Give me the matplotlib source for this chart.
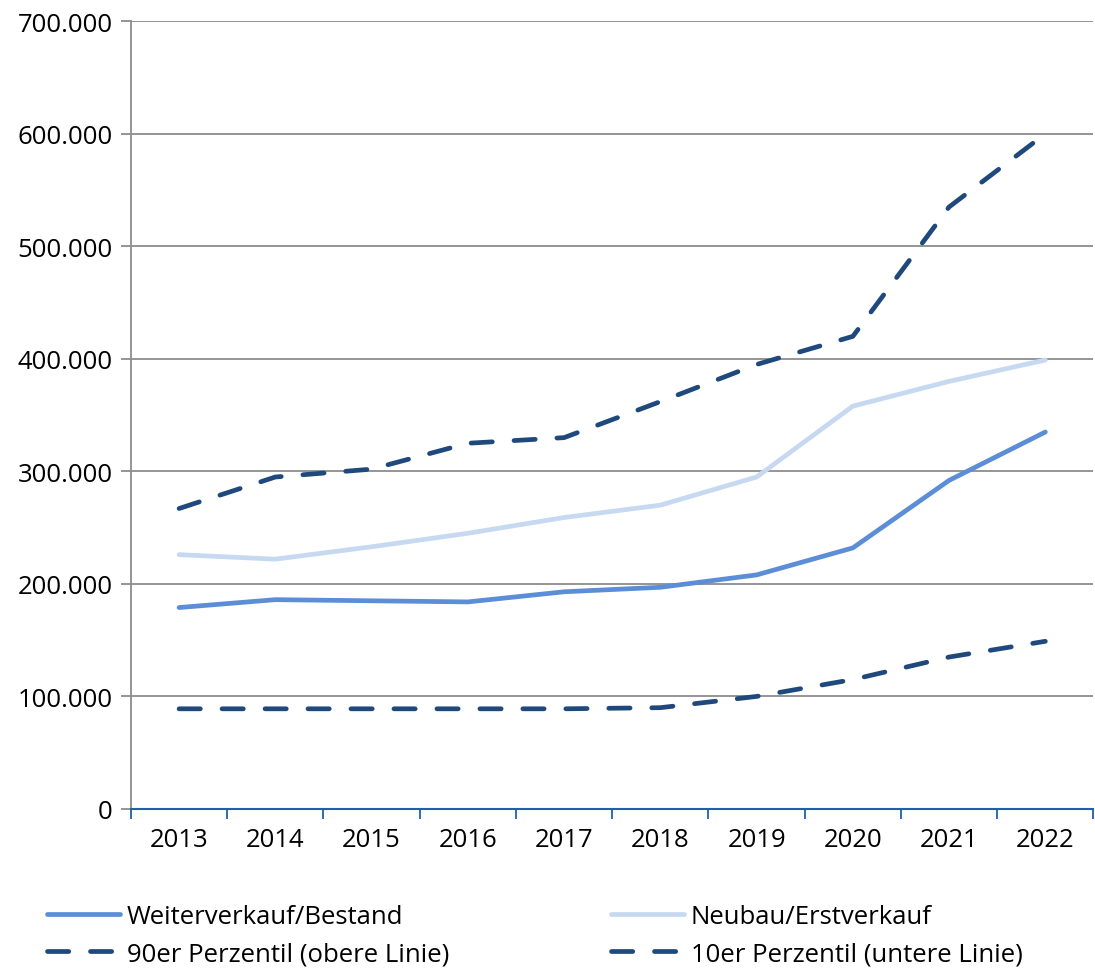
import numpy as np
import matplotlib.pyplot as plt
from matplotlib.ticker import FuncFormatter, FixedLocator

plt.rcParams['font.family'] = ['Open Sans', 'DejaVu Sans']

years = ['2013', '2014', '2015', '2016', '2017', '2018', '2019', '2020', '2021', '2022']
weiterverkauf = [179000, 186000, 185000, 184000, 193000, 197000, 208000, 232000, 292000, 335000]
neubau = [226000, 222000, 233000, 245000, 259000, 270000, 295000, 358000, 380000, 399000]
p90 = [267000, 295000, 302000, 325000, 330000, 362000, 395000, 420000, 535000, 600000]
p10 = [89000, 89000, 89000, 89000, 89000, 90000, 100000, 115000, 135000, 149000]

c_weiter = '#5b8ed6'
c_neubau = '#c6d9f0'
c_perz = '#1f497d'
c_grid = '#8c8c8c'
c_axis = '#1f5fb0'

fig = plt.figure(figsize=(10.95, 9.70), dpi=100)
ax = fig.add_axes([0.1196, 0.165, 0.879, 0.812])

x = np.arange(len(years))
h1, = ax.plot(x, weiterverkauf, color=c_weiter, lw=3.4, solid_capstyle='round',
              label='Weiterverkauf/Bestand', zorder=3)
h2, = ax.plot(x, neubau, color=c_neubau, lw=3.4, solid_capstyle='round',
              label='Neubau/Erstverkauf', zorder=3)
h3, = ax.plot(x, p90, color=c_perz, lw=3.4, dashes=(4.5, 4.6), dash_capstyle='round',
              label='90er Perzentil (obere Linie)', zorder=3)
h4, = ax.plot(x, p10, color=c_perz, lw=3.4, dashes=(4.5, 4.6), dash_capstyle='round',
              label='10er Perzentil (untere Linie)', zorder=3)

ax.set_xlim(-0.5, len(years) - 0.5)
ax.set_ylim(0, 700000)
ax.set_yticks(np.arange(0, 700001, 100000))
ax.yaxis.set_major_formatter(FuncFormatter(lambda v, p: f'{int(v):,}'.replace(',', '.')))
ax.yaxis.grid(True, color=c_grid, lw=1.3)
ax.set_axisbelow(True)

ax.set_xticks(x)
ax.set_xticklabels(years)
ax.tick_params(axis='x', which='major', length=0, pad=13, labelsize=18.5)
ax.xaxis.set_minor_locator(FixedLocator(np.arange(-0.5, len(years), 1.0)))
ax.tick_params(axis='x', which='minor', length=7, width=1.3, color=c_axis, direction='out')
ax.tick_params(axis='y', length=7, width=1.3, color=c_grid, labelsize=18.5, pad=6)

for s in ['top', 'right']:
    ax.spines[s].set_visible(False)
ax.spines['left'].set_color(c_grid)
ax.spines['left'].set_linewidth(1.3)
ax.spines['bottom'].set_color(c_axis)
ax.spines['bottom'].set_linewidth(1.5)
ax.spines['bottom'].set_zorder(4)

fig.legend(handles=[h1, h3, h2, h4], ncol=2, loc='upper left',
           bbox_to_anchor=(0.043, 0.0675), frameon=False, fontsize=18.5,
           handlelength=2.85, handletextpad=0.25, columnspacing=6.3,
           labelspacing=0.5, borderaxespad=0, borderpad=0)

fig.savefig('out.png', dpi=100)
